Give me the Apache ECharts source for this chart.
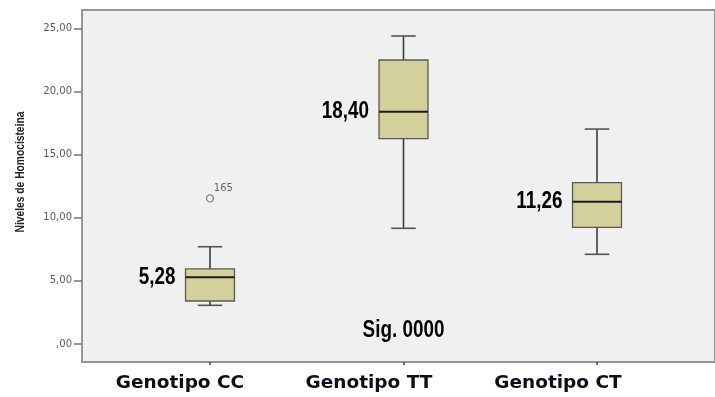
<!DOCTYPE html>
<html>
<head>
<meta charset="utf-8">
<script src="https://cdn.jsdelivr.net/npm/echarts@6/dist/echarts.min.js"></script>
<style>
html,body{margin:0;padding:0;background:#fff;}
#chart{width:715px;height:397px;}
</style>
</head>
<body>
<div id="chart"></div>
<script>
// ---- data ----
const categories = ['Genotipo CC', 'Genotipo TT', 'Genotipo CT'];
const whiskerLow = [3.06, 9.16, 7.10];
const q1 = [3.40, 16.26, 9.24];
const median = [5.28, 18.40, 11.26];
const q3 = [5.94, 22.49, 12.77];
const whiskerHigh = [7.70, 24.39, 17.02];
const medianLabels = ['5,28', '18,40', '11,26'];
const outlierCategory = [0];
const outlierValue = [11.53];
const outlierCase = ['165'];
const yTicks = [0, 5, 10, 15, 20, 25];
const yTickLabels = [',00', '5,00', '10,00', '15,00', '20,00', '25,00'];
const yTitle = 'Niveles de Homocisteina';
const sigText = 'Sig. 0000';
const sigCategory = 1;
const sigValue = 1.03;

const Y_MIN = -1.43, Y_MAX = 26.45;
const SANS = '"Liberation Sans", Arial, sans-serif';
const NARROW_SCALE = 0.82;

const boxData = categories.map((c, i) => [i, whiskerLow[i], q1[i], median[i], q3[i], whiskerHigh[i]]);
const outlierData = outlierCategory.map((c, i) => [c, outlierValue[i]]);

function narrowText(text, x, y, align, size) {
  return {
    type: 'text', x: x, y: y, scaleX: NARROW_SCALE, scaleY: 1,
    style: { text: text, x: 0, y: 0, align: align, verticalAlign: 'middle', fill: '#000',
      font: 'bold ' + size + 'px ' + SANS }
  };
}

function renderBox(params, api) {
  const i = api.value(0);
  const pLow = api.coord([i, api.value(1)]);
  const pQ1 = api.coord([i, api.value(2)]);
  const pMed = api.coord([i, api.value(3)]);
  const pQ3 = api.coord([i, api.value(4)]);
  const pHigh = api.coord([i, api.value(5)]);
  const band = api.size([1, 0])[0];
  const bw = band * 0.253;
  const cw = bw * 0.5;
  const x = pMed[0];
  const wStyle = { stroke: '#3d3d3d', lineWidth: 1.6 };
  return {
    type: 'group',
    children: [
      { type: 'line', shape: { x1: x, y1: pHigh[1], x2: x, y2: pQ3[1] }, style: wStyle },
      { type: 'line', shape: { x1: x, y1: pQ1[1], x2: x, y2: pLow[1] }, style: wStyle },
      { type: 'line', shape: { x1: x - cw / 2, y1: pHigh[1], x2: x + cw / 2, y2: pHigh[1] }, style: { stroke: '#555', lineWidth: 1.6 } },
      { type: 'line', shape: { x1: x - cw / 2, y1: pLow[1], x2: x + cw / 2, y2: pLow[1] }, style: { stroke: '#555', lineWidth: 1.6 } },
      { type: 'rect', shape: { x: x - bw / 2, y: pQ3[1], width: bw, height: pQ1[1] - pQ3[1] },
        style: { fill: '#d4d09b', stroke: '#5a5a50', lineWidth: 1.3 } },
      { type: 'line', shape: { x1: x - bw / 2, y1: pMed[1], x2: x + bw / 2, y2: pMed[1] }, style: { stroke: '#1a1a1a', lineWidth: 2 } },
      narrowText(medianLabels[params.dataIndex], x - bw / 2 - 10, pMed[1], 'right', 23)
    ]
  };
}

function renderSig(params, api) {
  const p = api.coord([api.value(0), api.value(1)]);
  return narrowText(sigText, p[0], p[1], 'center', 23);
}

const chart = echarts.init(document.getElementById('chart'), null, { renderer: 'canvas' });
chart.setOption({
  animation: false,
  backgroundColor: '#ffffff',
  grid: [
    { left: 82, top: 10, right: -2, bottom: 35, show: true, backgroundColor: '#f0f0f0', borderColor: '#959595', borderWidth: 2 },
    { left: 113.25, top: 10, width: 580.5, bottom: 35 },
    { left: 85.5, top: 10, width: 567, bottom: 35 }
  ],
  xAxis: [
    { gridIndex: 0, type: 'value', min: 0, max: 1, show: false },
    { gridIndex: 1, type: 'category', data: categories, position: 'bottom',
      axisLine: { show: false, onZero: false },
      axisTick: { show: true, alignWithLabel: true, length: 3, lineStyle: { color: '#444', width: 1.5 } },
      axisLabel: { show: false } },
    { gridIndex: 2, type: 'category', data: categories, position: 'bottom',
      axisLine: { show: false, onZero: false }, axisTick: { show: false },
      axisLabel: { show: true, margin: 12, color: '#0d0d1c', fontFamily: '"DejaVu Sans", sans-serif', fontWeight: 'bold', fontSize: 18.5 } }
  ],
  yAxis: [
    { gridIndex: 0, type: 'value', min: Y_MIN, max: Y_MAX,
      axisLine: { show: false },
      splitLine: { show: false },
      axisTick: { show: true, customValues: yTicks, length: 8, lineStyle: { color: '#777', width: 1.5 } },
      axisLabel: { show: true, customValues: yTicks, margin: 10, color: '#5a5a5a', fontFamily: '"DejaVu Sans", sans-serif', fontSize: 10,
        formatter: (v) => yTickLabels[yTicks.indexOf(v)] } },
    { gridIndex: 1, type: 'value', min: Y_MIN, max: Y_MAX, show: false, splitLine: { show: false } },
    { gridIndex: 2, type: 'value', min: Y_MIN, max: Y_MAX, show: false, splitLine: { show: false } }
  ],
  graphic: [
    { type: 'text', x: 20.5, y: 172, rotation: Math.PI / 2, scaleX: NARROW_SCALE, scaleY: 1,
      style: { text: yTitle, x: 0, y: 0, align: 'center', verticalAlign: 'middle', fill: '#222',
        font: 'bold 12.5px ' + SANS } }
  ],
  series: [
    { type: 'custom', xAxisIndex: 1, yAxisIndex: 1, renderItem: renderBox, data: boxData,
      encode: { x: 0, y: [1, 2, 3, 4, 5] } },
    { type: 'scatter', xAxisIndex: 1, yAxisIndex: 1, data: outlierData, symbol: 'circle', symbolSize: 7,
      itemStyle: { color: '#f0f0f0', borderColor: '#6a6a6a', borderWidth: 1.3 },
      label: { show: true, position: [8, -11], formatter: (p) => outlierCase[p.dataIndex],
        color: '#444', fontFamily: '"DejaVu Sans", sans-serif', fontSize: 10 } },
    { type: 'custom', xAxisIndex: 1, yAxisIndex: 1, renderItem: renderSig, data: [[sigCategory, sigValue]],
      encode: { x: 0, y: 1 } }
  ]
});
</script>
</body>
</html>
